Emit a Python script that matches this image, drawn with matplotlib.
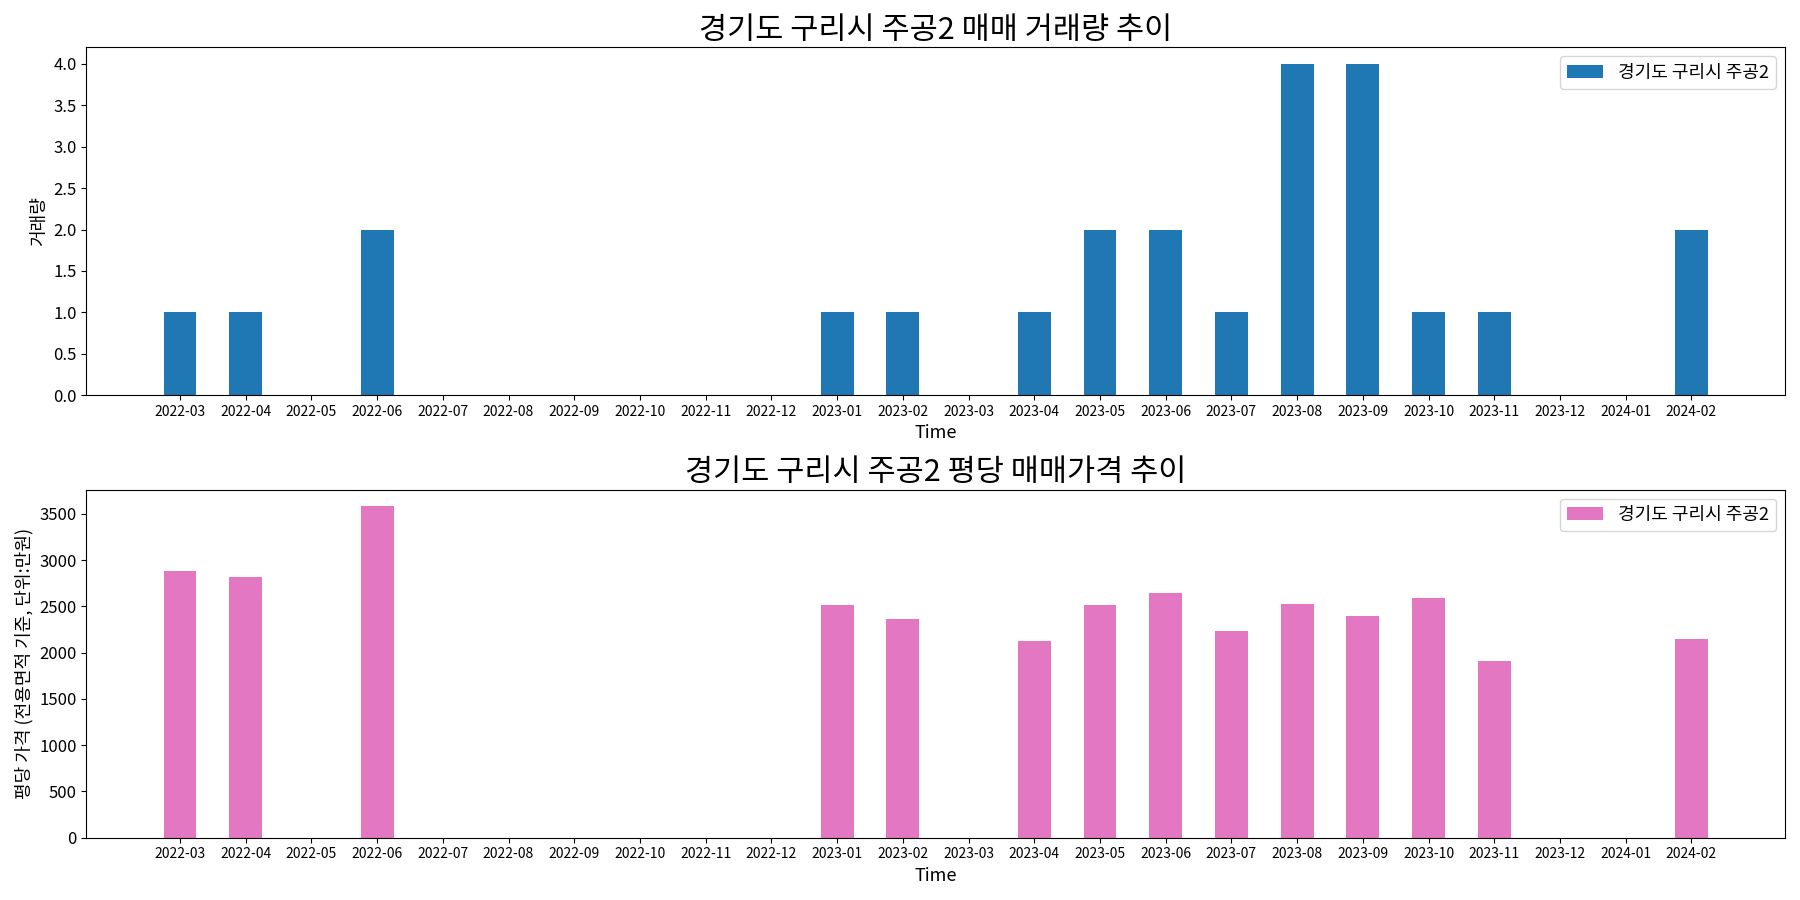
import matplotlib
matplotlib.use("Agg")
import matplotlib.pyplot as plt
import numpy as np

plt.rcParams["font.family"] = ["Noto Sans CJK JP", "Noto Sans CJK KR", "Noto Sans CJK SC", "DejaVu Sans"]
plt.rcParams["axes.unicode_minus"] = False

months = ["2022-03", "2022-04", "2022-05", "2022-06", "2022-07", "2022-08", "2022-09",
          "2022-10", "2022-11", "2022-12", "2023-01", "2023-02", "2023-03", "2023-04",
          "2023-05", "2023-06", "2023-07", "2023-08", "2023-09", "2023-10", "2023-11",
          "2023-12", "2024-01", "2024-02"]
volume = [1, 1, 0, 2, 0, 0, 0, 0, 0, 0, 1, 1, 0, 1, 2, 2, 1, 4, 4, 1, 1, 0, 0, 2]
price = [2880, 2820, 0, 3580, 0, 0, 0, 0, 0, 0, 2510, 2360, 0, 2130, 2510, 2640,
         2230, 2530, 2400, 2590, 1910, 0, 0, 2150]
name = "경기도 구리시 주공2"

fig, (ax1, ax2) = plt.subplots(2, 1, figsize=(18, 9), dpi=100)
x = np.arange(len(months))

ax1.bar(x, volume, width=0.5, color="#1f77b4", label=name)
ax1.set_title(f"{name} 매매 거래량 추이", fontsize=22)
ax1.set_ylabel("거래량", fontsize=13)
ax1.set_xlabel("Time", fontsize=13)

ax2.bar(x, price, width=0.5, color="#e377c2", label=name)
ax2.set_title(f"{name} 평당 매매가격 추이", fontsize=22)
ax2.set_ylabel("평당 가격 (전용면적 기준, 단위:만원)", fontsize=13)
ax2.set_xlabel("Time", fontsize=13)

for ax in (ax1, ax2):
    ax.set_xticks(x)
    ax.set_xticklabels(months, fontsize=10)
    ax.tick_params(axis="y", labelsize=12)
    ax.legend(loc="upper right", fontsize=13)

plt.tight_layout()
plt.savefig("out.png", dpi=100)
